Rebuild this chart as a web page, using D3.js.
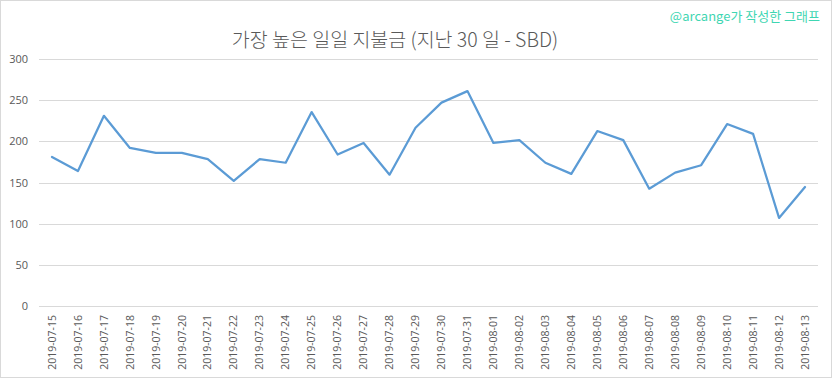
<!DOCTYPE html>
<html><head><meta charset="utf-8">
<script src="https://cdn.jsdelivr.net/npm/d3@7"></script>
<style>body{margin:0;background:#fff}svg{display:block}</style>
</head><body>
<script>
const categories = ["2019-07-15","2019-07-16","2019-07-17","2019-07-18","2019-07-19","2019-07-20","2019-07-21","2019-07-22","2019-07-23","2019-07-24","2019-07-25","2019-07-26","2019-07-27","2019-07-28","2019-07-29","2019-07-30","2019-07-31","2019-08-01","2019-08-02","2019-08-03","2019-08-04","2019-08-05","2019-08-06","2019-08-07","2019-08-08","2019-08-09","2019-08-10","2019-08-11","2019-08-12","2019-08-13"];
const values = [181,164,231,192,186,186,178.5,152,178.5,174,235.5,184,198,159.5,216.5,247,261,198,201.5,174,160.5,212.5,201.5,142.5,162,171,221,209,107,144.5];
const yTicks = [0,50,100,150,200,250,300];
const title = "가장 높은 일일 지불금 (지난 30 일 - SBD)";
const watermark = "@arcange가 작성한 그래프";

const W = 833, H = 379;
const svg = d3.select("body").append("svg").attr("width", W).attr("height", H);
svg.append("rect").attr("x",0.5).attr("y",0.5).attr("width",831).attr("height",377)
  .attr("fill","#fff").attr("stroke","#d9d9d9");

const x = d3.scaleBand().domain(categories).range([39, 818]);
const y = d3.scaleLinear().domain([0,300]).range([306, 59]);

const font = "'Open Sans', 'Noto Sans CJK KR', sans-serif";

// gridlines
svg.append("g").selectAll("line").data(yTicks).join("line")
  .attr("x1",39).attr("x2",818)
  .attr("y1",d=>Math.round(y(d))+0.5).attr("y2",d=>Math.round(y(d))+0.5)
  .attr("stroke","#d9d9d9").attr("stroke-width",1);

// y axis labels
const ya = svg.append("g").attr("transform","translate(32,0)")
  .call(d3.axisLeft(y).tickValues(yTicks).tickSize(0).tickPadding(4));
ya.select(".domain").remove();
ya.selectAll("text").attr("font-family",font).attr("font-size",11).attr("fill","#595959");

// x axis labels
const xa = svg.append("g").attr("transform","translate(0,306)")
  .call(d3.axisBottom(x).tickSize(0).tickPadding(0));
xa.select(".domain").remove();
xa.selectAll("text").attr("font-family",font).attr("font-size",10.5).attr("fill","#595959")
  .attr("text-anchor","end").attr("dy","0.35em")
  .attr("transform","translate(0,9) rotate(-90)");

// line
const line = d3.line().x((d,i)=>x(categories[i])+x.bandwidth()/2).y(d=>y(d));
svg.append("path").datum(values).attr("d",line)
  .attr("fill","none").attr("stroke","#5b9bd5").attr("stroke-width",2.25)
  .attr("stroke-linejoin","round").attr("stroke-linecap","round");

// title
svg.append("text").attr("x",395).attr("y",47).attr("text-anchor","middle")
  .attr("font-family","'Noto Sans CJK KR', 'Open Sans', sans-serif").attr("font-weight",300)
  .attr("font-size",19.5).attr("fill","#595959").text(title);

// watermark
svg.append("text").attr("x",820).attr("y",21).attr("text-anchor","end")
  .attr("font-family","'Noto Sans CJK KR', 'Open Sans', sans-serif")
  .attr("font-size",13).attr("fill","#3fd6b2").text(watermark);
</script>
</body></html>
